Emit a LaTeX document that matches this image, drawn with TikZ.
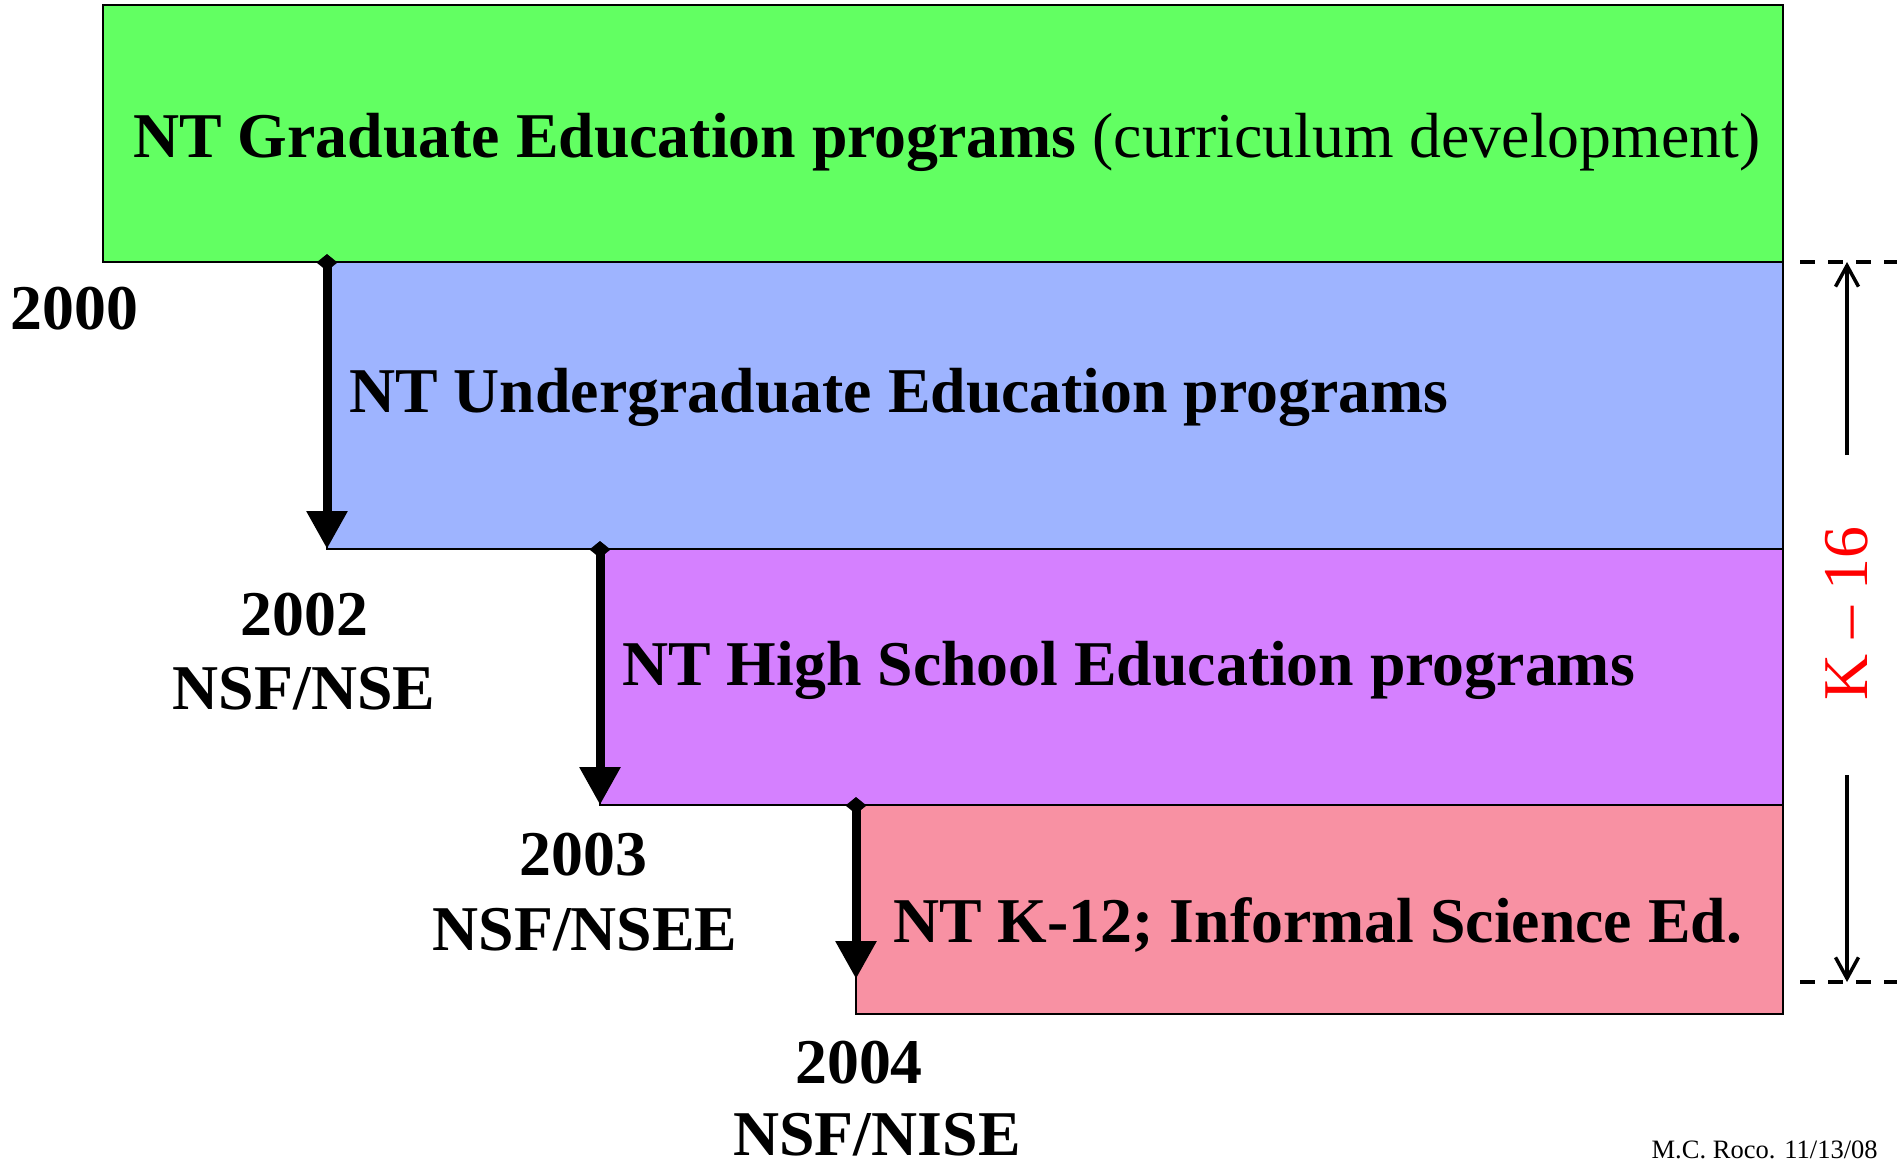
\documentclass[tikz,border=0pt]{standalone}
\usepackage{fontspec}
\setmainfont{Liberation Serif}
\usepackage{tikz}
\usetikzlibrary{arrows.meta}

\definecolor{gradgreen}{RGB}{98,255,98}
\definecolor{ugblue}{RGB}{158,180,255}
\definecolor{hspurple}{RGB}{213,128,255}
\definecolor{kpink}{RGB}{248,145,163}

\newcommand{\bigfont}{\fontsize{36.3}{40}\selectfont}

\tikzset{
  levelbox/.style={draw=black, line width=0.04cm},
  boxtext/.style={anchor=base west, inner sep=0pt, font=\bigfont},
  yearlabel/.style={anchor=base, inner sep=0pt, font=\bigfont\bfseries},
  launch/.style={line width=0.18cm, shorten <=-0.16cm,
    {Diamond[length=0.34cm,width=0.42cm]}-{Triangle[length=0.76cm,width=0.78cm]}},
  limitline/.style={line width=0.08cm, dash pattern=on 0.3cm off 0.26cm},
  spanarrow/.style={line width=0.07cm, -{Straight Barb[length=0.42cm,width=0.46cm]}}
}

\begin{document}
\begin{tikzpicture}
\useasboundingbox (0,0) rectangle (37.94,-23.22);

\coordinate (g1) at (2.06,-0.10);
\coordinate (g2) at (35.66,-5.24);
\coordinate (u1) at (6.54,-5.24);
\coordinate (u2) at (35.66,-10.98);
\coordinate (h1) at (12.00,-10.98);
\coordinate (h2) at (35.66,-16.10);
\coordinate (k1) at (17.12,-16.10);
\coordinate (k2) at (35.66,-20.28);
\coordinate (k3) at (17.12,-19.58);

\filldraw[levelbox, fill=gradgreen] (g1) rectangle (g2);
\filldraw[levelbox, fill=ugblue] (u1) rectangle (u2);
\filldraw[levelbox, fill=hspurple] (h1) rectangle (h2);
\filldraw[levelbox, fill=kpink] (k1) rectangle (k2);

\node[boxtext] (grad) at (2.66,-3.15) {\textbf{NT Graduate Education programs} (curriculum development)};
\node[boxtext] (ugrad) at (6.98,-8.26) {\textbf{NT Undergraduate Education programs}};
\node[boxtext] (hschool) at (12.44,-13.70) {\textbf{NT High School Education programs}};
\node[boxtext] (kinf) at (17.86,-18.84) {\textbf{NT K-12; Informal Science Ed.}};

\draw[launch] (u1) -- (u1 |- u2);
\draw[launch] (h1) -- (h1 |- h2);
\draw[launch] (k1) -- (k3);

\node[yearlabel] (y2000) at (1.49,-6.60) {2000};
\node[yearlabel] (y2002) at (6.09,-12.70) {2002};
\node[yearlabel] (p2002) at (6.08,-14.18) {NSF/NSE};
\node[yearlabel] (y2003) at (11.67,-17.50) {2003};
\node[yearlabel] (p2003) at (11.70,-19.00) {NSF/NSEE};
\node[yearlabel] (y2004) at (17.18,-21.66) {2004};
\node[yearlabel] (p2004) at (17.54,-23.10) {NSF/NISE};

\coordinate (top) at (36.00,-5.24);
\coordinate (topend) at (37.94,-5.24);
\coordinate (bot) at (36.00,-19.64);
\coordinate (botend) at (37.94,-19.64);
\draw[limitline] (top) -- (topend);
\draw[limitline] (bot) -- (botend);

\coordinate (upfrom) at (36.94,-9.10);
\coordinate (downfrom) at (36.94,-15.50);
\draw[spanarrow] (upfrom) -- (upfrom |- top);
\draw[spanarrow] (downfrom) -- (downfrom |- bot);

\node[rotate=90, text=red, inner sep=0pt, font=\bigfont] (k16) at (36.94,-12.27) {K \textendash{} 16};

\node[anchor=base east, inner sep=0pt, font=\fontsize{15.1}{17}\selectfont] (sign) at (37.56,-23.16) {M.C. Roco. 11/13/08};

\end{tikzpicture}
\end{document}
